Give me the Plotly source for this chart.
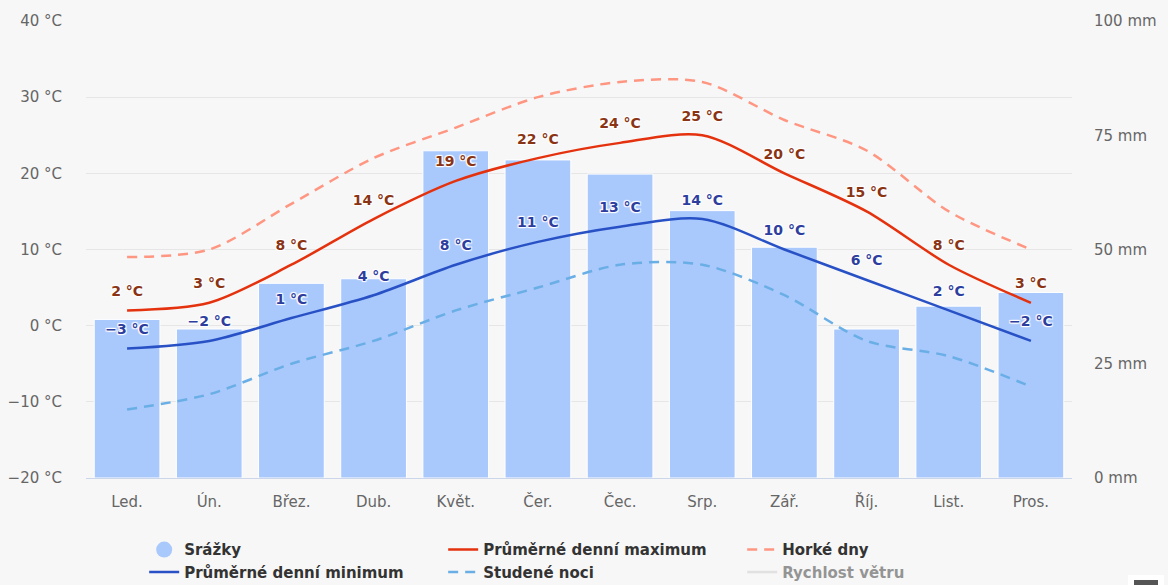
import plotly.graph_objects as go

months = ["Led.", "Ún.", "Břez.", "Dub.", "Květ.", "Čer.", "Čec.", "Srp.", "Zář.", "Říj.", "List.", "Pros."]
precip_mm = [34.7, 32.6, 42.6, 43.6, 71.6, 69.6, 66.5, 58.5, 50.5, 32.6, 37.6, 40.6]
temp_max = [2, 3, 8, 14, 19, 22, 24, 25, 20, 15, 8, 3]
temp_min = [-3, -2, 1, 4, 8, 11, 13, 14, 10, 6, 2, -2]
hot_days = [9, 10, 16, 22, 26, 30, 32, 32, 27, 23, 15, 10]
cold_nights = [-11, -9, -5, -2, 2, 5, 8, 8, 4, -2, -4, -8]
wind_speed = [None] * 12

FONT = "DejaVu Sans"
BAR_C = "#a9c8fc"
MAX_C = "#e5320e"
MIN_C = "#2851c6"
HOT_C = "#ff9682"
COLD_C = "#6aaee6"
OUTLINE = "1px 1px 1px #fff, -1px -1px 1px #fff, 1px -1px 1px #fff, -1px 1px 1px #fff, 0 0 2px #fff"

fig = go.Figure()

# precipitation bars (primary y, right side)
fig.add_trace(go.Bar(
    x=months, y=precip_mm, name="Srážky", marker=dict(color=BAR_C, line=dict(width=1, color="#ffffff")),
    showlegend=False, legendgroup="p", yaxis="y", hoverinfo="y"))

# legend entries in Highcharts order
fig.add_trace(go.Scatter(x=[None], y=[None], mode="markers", name="Srážky", legendgroup="p",
                         marker=dict(symbol="circle", size=18, color=BAR_C), yaxis="y"))

fig.add_trace(go.Scatter(
    x=months, y=temp_max, name="Průměrné denní maximum", yaxis="y2",
    mode="lines+markers+text", line=dict(color=MAX_C, width=2.5, shape="spline", smoothing=0.85),
    marker=dict(size=16, color="rgba(0,0,0,0)"),
    text=[f"{v} °C" for v in temp_max], textposition="top center",
    textfont=dict(family=FONT, size=14, color="#8a3414", weight="bold", shadow=OUTLINE)))

fig.add_trace(go.Scatter(
    x=months, y=hot_days, name="Horké dny", yaxis="y2", mode="lines",
    line=dict(color=HOT_C, width=2.5, dash="10px,7px", shape="spline", smoothing=0.85)))

fig.add_trace(go.Scatter(
    x=months, y=temp_min, name="Průměrné denní minimum", yaxis="y2",
    mode="lines+markers+text", line=dict(color=MIN_C, width=2.5, shape="spline", smoothing=0.85),
    marker=dict(size=16, color="rgba(0,0,0,0)"),
    text=[f"{v} °C".replace("-", "−") for v in temp_min], textposition="top center",
    textfont=dict(family=FONT, size=14, color="#2d3e9e", weight="bold", shadow=OUTLINE)))

fig.add_trace(go.Scatter(
    x=months, y=cold_nights, name="Studené noci", yaxis="y2", mode="lines",
    line=dict(color=COLD_C, width=2.5, dash="10px,7px", shape="spline", smoothing=0.85)))

fig.add_trace(go.Scatter(
    x=months, y=wind_speed, name="Rychlost větru", yaxis="y2", mode="lines",
    line=dict(color="#cccccc", width=2.5), visible="legendonly"))

# partially visible export-menu button in the bottom-right corner
fig.add_shape(type="rect", xref="paper", yref="paper", x0=1.0568, x1=1.0933, y0=-0.26, y1=-0.2123,
              fillcolor="#ffffff", line=dict(width=0), layer="above")
fig.add_shape(type="rect", xref="paper", yref="paper", x0=1.0629, x1=1.0872, y0=-0.245, y1=-0.2232,
              fillcolor="#555555", line=dict(width=0), layer="above")

fig.update_layout(
    width=1168, height=585,
    margin=dict(l=86, r=96, t=21, b=107, autoexpand=False),
    paper_bgcolor="#f7f7f7", plot_bgcolor="#f7f7f7",
    font=dict(family=FONT, size=15, color="#666666"),
    bargap=0.2,
    xaxis=dict(showgrid=False, showline=True, linecolor="#ccd6eb", linewidth=1,
               range=[-0.5, len(months) - 0.5], autorange=False,
               ticks="", tickfont=dict(size=15, color="#666666"), ticklabelstandoff=10,
               fixedrange=True),
    yaxis=dict(side="right", range=[0, 100], tick0=0, dtick=25, ticksuffix=" mm",
               showgrid=False, zeroline=False, showline=False,
               tickfont=dict(size=15, color="#666666"), ticklabelstandoff=21),
    yaxis2=dict(side="left", overlaying="y", range=[-20, 40], tick0=-20, dtick=10,
                ticksuffix=" °C", showgrid=True, gridcolor="#e6e6e6", gridwidth=1,
                zeroline=False, showline=False,
                tickfont=dict(size=15, color="#666666"), ticklabelstandoff=23),
    legend=dict(orientation="h", x=0.059, xanchor="left", y=-0.121, yanchor="top",
                entrywidth=254, entrywidthmode="pixels", traceorder="normal",
                font=dict(family=FONT, size=15, color="#333333", weight="bold"),
                bgcolor="rgba(0,0,0,0)", itemclick=False, itemdoubleclick=False,
                tracegroupgap=0),
    showlegend=True,
)

fig.write_html("out.html", config={"displayModeBar": False},
               post_script="document.body.style.margin='0';document.body.style.overflow='hidden';")
